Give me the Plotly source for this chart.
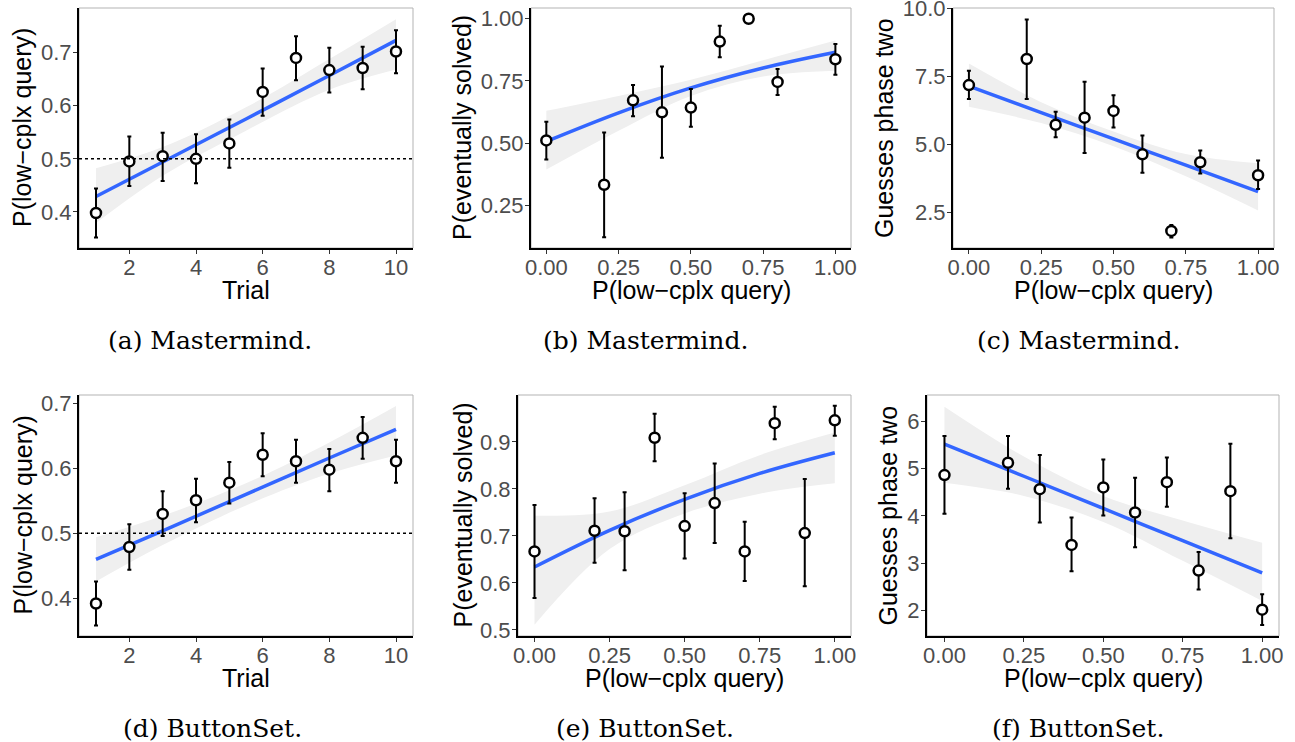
import plotly.graph_objects as go

# ---- panel (a) Mastermind: P(low-cplx query) by trial
a_x = [1, 2, 3, 4, 5, 6, 7, 8, 9, 10]
a_y = [0.398, 0.495, 0.505, 0.500, 0.529, 0.626, 0.690, 0.667, 0.671, 0.702]
a_lo = [0.352, 0.449, 0.458, 0.454, 0.483, 0.581, 0.648, 0.625, 0.631, 0.661]
a_hi = [0.444, 0.542, 0.549, 0.546, 0.574, 0.670, 0.731, 0.709, 0.711, 0.742]
a_fit_x = [1, 3, 5.5, 8, 10]
a_fit = [0.429, 0.494, 0.575, 0.657, 0.723]
a_band_lo = [0.379, 0.468, 0.553, 0.630, 0.668]
a_band_hi = [0.482, 0.522, 0.597, 0.688, 0.763]

# ---- panel (b) Mastermind: P(eventually solved)
b_x = [0, 0.2, 0.3, 0.4, 0.5, 0.6, 0.7, 0.8, 1.0]
b_y = [0.511, 0.333, 0.672, 0.624, 0.643, 0.908, 1.0, 0.746, 0.837]
b_lo = [0.434, 0.122, 0.608, 0.442, 0.566, 0.845, 1.0, 0.694, 0.775]
b_hi = [0.586, 0.543, 0.734, 0.808, 0.718, 0.972, 1.0, 0.798, 0.898]
b_fit_x = [0, 0.25, 0.5, 0.75, 1.0]
b_fit = [0.507, 0.622, 0.722, 0.802, 0.865]
b_band_lo = [0.394, 0.550, 0.690, 0.768, 0.791]
b_band_hi = [0.630, 0.690, 0.755, 0.833, 0.912]

# ---- panel (c) Mastermind: guesses phase two
c_x = [0, 0.2, 0.3, 0.4, 0.5, 0.6, 0.7, 0.8, 1.0]
c_y = [7.18, 8.14, 5.72, 5.98, 6.23, 4.63, 1.81, 4.34, 3.86]
c_lo = [6.67, 6.67, 5.26, 4.68, 5.62, 3.95, 1.57, 3.92, 3.35]
c_hi = [7.71, 9.60, 6.20, 7.30, 6.81, 5.32, 2.03, 4.77, 4.40]
c_fit_x = [0, 0.25, 0.5, 0.75, 1.0]
c_fit = [7.14, 6.17, 5.20, 4.23, 3.26]
c_band_lo = [6.38, 5.78, 4.93, 3.82, 2.56]
c_band_hi = [7.98, 6.55, 5.47, 4.64, 4.30]

# ---- panel (d) ButtonSet: P(low-cplx query) by trial
d_x = [1, 2, 3, 4, 5, 6, 7, 8, 9, 10]
d_y = [0.392, 0.479, 0.530, 0.551, 0.578, 0.621, 0.611, 0.598, 0.647, 0.611]
d_lo = [0.358, 0.444, 0.496, 0.517, 0.546, 0.588, 0.578, 0.565, 0.615, 0.578]
d_hi = [0.426, 0.514, 0.565, 0.584, 0.610, 0.654, 0.644, 0.630, 0.679, 0.644]
d_fit_x = [1, 3, 5.5, 8, 10]
d_fit = [0.460, 0.504, 0.560, 0.616, 0.660]
d_band_lo = [0.426, 0.482, 0.543, 0.592, 0.620]
d_band_hi = [0.494, 0.527, 0.577, 0.640, 0.696]

# ---- panel (e) ButtonSet: P(eventually solved)
e_x = [0, 0.2, 0.3, 0.4, 0.5, 0.6, 0.7, 0.8, 0.9, 1.0]
e_y = [0.667, 0.711, 0.710, 0.909, 0.721, 0.770, 0.667, 0.940, 0.706, 0.946]
e_lo = [0.568, 0.643, 0.627, 0.859, 0.652, 0.685, 0.604, 0.906, 0.593, 0.913]
e_hi = [0.766, 0.780, 0.793, 0.960, 0.791, 0.854, 0.730, 0.975, 0.821, 0.977]
e_fit_x = [0, 0.25, 0.5, 0.75, 1.0]
e_fit = [0.634, 0.712, 0.778, 0.833, 0.877]
e_band_lo = [0.511, 0.672, 0.748, 0.790, 0.812]
e_band_hi = [0.743, 0.752, 0.808, 0.872, 0.920]

# ---- panel (f) ButtonSet: guesses phase two
f_x = [0, 0.2, 0.3, 0.4, 0.5, 0.6, 0.7, 0.8, 0.9, 1.0]
f_y = [4.859, 5.120, 4.563, 3.387, 4.599, 4.070, 4.711, 2.845, 4.521, 2.021]
f_lo = [4.042, 4.570, 3.859, 2.831, 4.007, 3.338, 4.190, 2.444, 3.528, 1.697]
f_hi = [5.683, 5.683, 5.282, 3.965, 5.190, 4.803, 5.232, 3.239, 5.521, 2.345]
f_fit_x = [0, 0.25, 0.5, 0.75, 1.0]
f_fit = [5.514, 4.835, 4.155, 3.476, 2.796]
f_band_lo = [4.697, 4.420, 3.870, 3.050, 2.204]
f_band_hi = [6.303, 5.250, 4.420, 3.900, 3.430]

# tick labels
trial_ticks = [2, 4, 6, 8, 10]
prob_ticks = [0, 0.25, 0.5, 0.75, 1.0]
prob_labels = ["0.00", "0.25", "0.50", "0.75", "1.00"]
query_ticks = [0.4, 0.5, 0.6, 0.7]
query_labels = ["0.4", "0.5", "0.6", "0.7"]
b_yticks = [0.25, 0.5, 0.75, 1.0]
b_ylabels = ["0.25", "0.50", "0.75", "1.00"]
c_yticks = [2.5, 5.0, 7.5, 10.0]
c_ylabels = ["2.5", "5.0", "7.5", "10.0"]
e_yticks = [0.5, 0.6, 0.7, 0.8, 0.9]
e_ylabels = ["0.5", "0.6", "0.7", "0.8", "0.9"]
f_yticks = [2, 3, 4, 5, 6]
f_ylabels = ["2", "3", "4", "5", "6"]

W, H = 1295, 742
SANS = "Liberation Sans"
SERIF = "DejaVu Serif"


def px_x(v):
    return v / W


def px_y(v):
    return 1 - v / H


panels = [
    dict(x=a_x, y=a_y, lo=a_lo, hi=a_hi, fx=a_fit_x, f=a_fit, bl=a_band_lo, bh=a_band_hi,
         xr=[0.49, 10.51], yr=[0.332, 0.784], xt=(trial_ticks, [str(t) for t in trial_ticks]),
         yt=(query_ticks, query_labels), px=(79, 413), py=(8, 248), ref=True,
         xtitle="Trial", ytitle="P(low\u2212cplx query)", ytx=22, cap="(a) Mastermind.", capx=210),
    dict(x=b_x, y=b_y, lo=b_lo, hi=b_hi, fx=b_fit_x, f=b_fit, bl=b_band_lo, bh=b_band_hi,
         xr=[-0.053, 1.054], yr=[0.079, 1.043], xt=(prob_ticks, prob_labels),
         yt=(b_yticks, b_ylabels), px=(531, 851), py=(8, 248), ref=False,
         xtitle="P(low\u2212cplx query)", ytitle="P(eventually solved)", ytx=462, cap="(b) Mastermind.", capx=645),
    dict(x=c_x, y=c_y, lo=c_lo, hi=c_hi, fx=c_fit_x, f=c_fit, bl=c_band_lo, bh=c_band_hi,
         xr=[-0.055, 1.055], yr=[1.18, 10.02], xt=(prob_ticks, prob_labels),
         yt=(c_yticks, c_ylabels), px=(953, 1274), py=(8, 248), ref=False,
         xtitle="P(low\u2212cplx query)", ytitle="Guesses phase two", ytx=884, cap="(c) Mastermind.", capx=1078),
    dict(x=d_x, y=d_y, lo=d_lo, hi=d_hi, fx=d_fit_x, f=d_fit, bl=d_band_lo, bh=d_band_hi,
         xr=[0.49, 10.51], yr=[0.342, 0.713], xt=(trial_ticks, [str(t) for t in trial_ticks]),
         yt=(query_ticks, query_labels), px=(79, 413), py=(395, 636), ref=True,
         xtitle="Trial", ytitle="P(low\u2212cplx query)", ytx=22, cap="(d) ButtonSet.", capx=212),
    dict(x=e_x, y=e_y, lo=e_lo, hi=e_hi, fx=e_fit_x, f=e_fit, bl=e_band_lo, bh=e_band_hi,
         xr=[-0.055, 1.054], yr=[0.487, 1.0], xt=(prob_ticks, prob_labels),
         yt=(e_yticks, e_ylabels), px=(518, 851), py=(395, 636), ref=False,
         xtitle="P(low\u2212cplx query)", ytitle="P(eventually solved)", ytx=462, cap="(e) ButtonSet.", capx=645),
    dict(x=f_x, y=f_y, lo=f_lo, hi=f_hi, fx=f_fit_x, f=f_fit, bl=f_band_lo, bh=f_band_hi,
         xr=[-0.055, 1.053], yr=[1.465, 6.549], xt=(prob_ticks, prob_labels),
         yt=(f_yticks, f_ylabels), px=(927, 1279), py=(395, 636), ref=False,
         xtitle="P(low\u2212cplx query)", ytitle="Guesses phase two", ytx=887, cap="(f) ButtonSet.", capx=1078),
]

fig = go.Figure()
annotations = []
shapes = []

for i, p in enumerate(panels, start=1):
    xa = "x" if i == 1 else "x%d" % i
    ya = "y" if i == 1 else "y%d" % i

    # confidence band: lower edge, then upper edge filled down to it
    fig.add_trace(go.Scatter(x=p["fx"], y=p["bl"], mode="lines",
                             line=dict(width=0, shape="spline", color="rgba(0,0,0,0)"),
                             hoverinfo="skip", xaxis=xa, yaxis=ya))
    fig.add_trace(go.Scatter(x=p["fx"], y=p["bh"], mode="lines", fill="tonexty",
                             fillcolor="#EFEFEF",
                             line=dict(width=0, shape="spline", color="rgba(0,0,0,0)"),
                             hoverinfo="skip", xaxis=xa, yaxis=ya))
    # fitted curve
    fig.add_trace(go.Scatter(x=p["fx"], y=p["f"], mode="lines",
                             line=dict(color="#3366FF", width=3.5, shape="spline"),
                             xaxis=xa, yaxis=ya))
    # points with error bars
    fig.add_trace(go.Scatter(x=p["x"], y=p["y"], mode="markers",
                             marker=dict(size=10, color="white", line=dict(color="black", width=2.5)),
                             error_y=dict(type="data", symmetric=False,
                                          array=[h - v for h, v in zip(p["hi"], p["y"])],
                                          arrayminus=[v - l for v, l in zip(p["y"], p["lo"])],
                                          color="black", thickness=2, width=2),
                             xaxis=xa, yaxis=ya))

    x0, x1 = px_x(p["px"][0]), px_x(p["px"][1])
    y0, y1 = px_y(p["py"][1]), px_y(p["py"][0])
    axis_common = dict(showgrid=False, zeroline=False, ticks="outside", ticklen=4,
                       tickcolor="#333333", tickwidth=1, automargin=False,
                       ticklabeloverflow="allow",
                       tickfont=dict(family=SANS, size=22, color="#4D4D4D"),
                       showline=True, linecolor="black", linewidth=2)
    fig.layout["xaxis" if i == 1 else "xaxis%d" % i] = dict(
        domain=[x0, x1], range=p["xr"], anchor=ya, tickvals=p["xt"][0], ticktext=p["xt"][1],
        ticklabelstandoff=-5, **axis_common)
    fig.layout["yaxis" if i == 1 else "yaxis%d" % i] = dict(
        domain=[y0, y1], range=p["yr"], anchor=xa, tickvals=p["yt"][0], ticktext=p["yt"][1],
        ticklabelstandoff=-3, **axis_common)

    # light grey top/right border
    shapes.append(dict(type="rect", xref=xa + " domain", yref=ya + " domain", x0=0, x1=1, y0=0, y1=1,
                       line=dict(color="#B3B3B3", width=1), layer="below"))
    if p["ref"]:
        shapes.append(dict(type="line", xref=xa + " domain", yref=ya, x0=0, x1=1, y0=0.5, y1=0.5,
                           line=dict(color="black", width=1.5, dash="dot")))

    # axis titles and caption
    annotations.append(dict(text=p["xtitle"], x=(x0 + x1) / 2, y=px_y(p["py"][1] + 42),
                            xref="paper", yref="paper", xanchor="center", yanchor="middle",
                            showarrow=False, font=dict(family=SANS, size=25, color="black")))
    annotations.append(dict(text=p["ytitle"], x=px_x(p["ytx"]), y=px_y((p["py"][0] + p["py"][1]) / 2),
                            xref="paper", yref="paper", xanchor="center", yanchor="middle",
                            textangle=-90, showarrow=False,
                            font=dict(family=SANS, size=25, color="black")))
    annotations.append(dict(text=p["cap"], x=px_x(p["capx"]), y=px_y(p["py"][1] + 92),
                            xref="paper", yref="paper", xanchor="center", yanchor="middle",
                            showarrow=False, font=dict(family=SERIF, size=25, color="black")))

fig.update_layout(width=W, height=H, margin=dict(l=0, r=0, t=0, b=0),
                  paper_bgcolor="white", plot_bgcolor="white", showlegend=False,
                  annotations=annotations, shapes=shapes)

# drop the browser's default 8px body margin so the figure sits at the window corner
fig.write_html("out.html", config={"displayModeBar": False},
               post_script="document.body.style.margin = '0';")
